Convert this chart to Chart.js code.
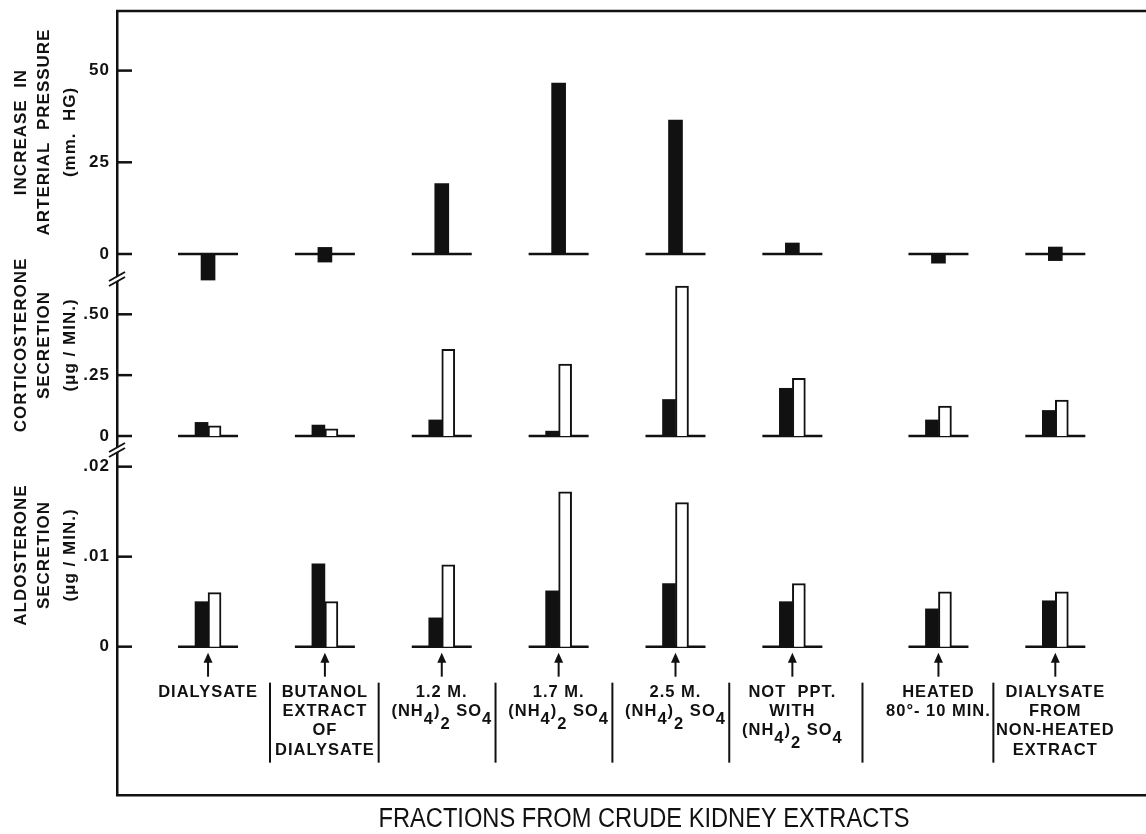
<!DOCTYPE html>
<html>
<head>
<meta charset="utf-8">
<script src="https://cdn.jsdelivr.net/npm/chart.js@4.4.1/dist/chart.umd.min.js"></script>
<style>
  html, body { margin: 0; padding: 0; background: #fff; }
  #wrap { width: 1146px; height: 834px; position: relative; }
</style>
</head>
<body>
<div id="wrap"><canvas id="myChart"></canvas></div>
<script>
// categories (lines of each label under the arrows)
const fractions = [
  ['DIALYSATE'],
  ['BUTANOL', 'EXTRACT', 'OF', 'DIALYSATE'],
  ['1.2 M.', '(NH4)2 SO4'],
  ['1.7 M.', '(NH4)2 SO4'],
  ['2.5 M.', '(NH4)2 SO4'],
  ['NOT  PPT.', 'WITH', '(NH4)2 SO4'],
  ['HEATED', '80°- 10 MIN.'],
  ['DIALYSATE', 'FROM', 'NON-HEATED', 'EXTRACT']
];

// increase in arterial pressure, mm Hg (two are small boxes around zero)
const pressureRise = [-7.1, [-2.2, 1.8], 19.2, 46.6, 36.5, 3.0, -2.5, [-1.8, 1.9]];
// corticosterone secretion, ug/min
const corticoBlack = [0.056, 0.045, 0.066, 0.020, 0.150, 0.196, 0.066, 0.105];
const corticoWhite = [0.042, 0.030, 0.356, 0.296, 0.616, 0.237, 0.123, 0.148];
// aldosterone secretion, ug/min
const aldoBlack = [0.0050, 0.0092, 0.0032, 0.0062, 0.0070, 0.0050, 0.0042, 0.0051];
const aldoWhite = [0.0060, 0.0050, 0.0091, 0.0172, 0.0160, 0.0070, 0.0061, 0.0061];

// tick values and labels
const pressureTicks = [0, 25, 50];
const pressureTickLabels = ['0', '25', '50'];
const corticoTicks = [0, 0.25, 0.5];
const corticoTickLabels = ['0', '.25', '.50'];
const aldoTicks = [0, 0.01, 0.02];
const aldoTickLabels = ['0', '.01', '.02'];

const ink = '#111';
const font = 'Liberation Sans, Arial, sans-serif';

// the last two fractions sit a bit further right
const slot = i => i + (i >= 6 ? 0.25 : 0);
const points = arr => arr.map((v, i) => ({ x: slot(i), y: v }));

function yAxis(min, max, weight, ticks, labels) {
  return {
    type: 'linear',
    position: 'left',
    stack: 'panels',
    stackWeight: weight,
    stacked: false,
    min: min,
    max: max,
    afterBuildTicks: s => { s.ticks = ticks.map(v => ({ value: v })); },
    afterFit: s => {
      s.width = 117;
      s.paddingTop = 0;
      s.paddingBottom = 0;
    },
    grid: { display: false, drawTicks: false },
    border: { display: true, color: ink, width: 2.5 },
    ticks: {
      padding: 7,
      color: ink,
      font: { family: font, size: 17, weight: 'bold' },
      callback: (v, i) => labels[i]
    }
  };
}

// text with chemical subscripts: digits after a letter or ')' are lowered
function drawRich(ctx, text, cx, y) {
  const parts = [];
  for (let i = 0; i < text.length; i++) {
    const ch = text[i];
    const sub = /[0-9]/.test(ch) && i > 0 && /[A-Z)]/.test(text[i - 1]);
    if (parts.length && parts[parts.length - 1].sub === sub) parts[parts.length - 1].t += ch;
    else parts.push({ t: ch, sub: sub });
  }
  let total = 0;
  parts.forEach(p => { p.w = ctx.measureText(p.t).width; total += p.w; });
  let x = cx - total / 2;
  ctx.textAlign = 'left';
  parts.forEach((p, k) => {
    let dy = 0;
    if (p.sub) dy = (k > 0 && parts[k - 1].t.endsWith(')')) ? 13 : 8;
    ctx.fillText(p.t, x, y + dy);
    x += p.w;
  });
}

const decor = {
  id: 'decor',
  beforeDraw(chart) {
    chart.ctx.letterSpacing = '1px';
  },
  beforeDatasetsDraw(chart) {
    const { ctx, chartArea, scales } = chart;
    const xs = scales.x;
    ctx.save();
    ctx.strokeStyle = ink;
    ctx.lineCap = 'butt';
    // top frame line
    ctx.lineWidth = 2.5;
    ctx.beginPath();
    ctx.moveTo(chartArea.left - 1, chartArea.top);
    ctx.lineTo(chartArea.right, chartArea.top);
    ctx.stroke();
    // inward ticks
    ['yP', 'yC', 'yA'].forEach(id => {
      const s = scales[id];
      s.ticks.forEach(t => {
        const y = s.getPixelForValue(t.value);
        ctx.beginPath();
        ctx.moveTo(chartArea.left, y);
        ctx.lineTo(chartArea.left + 15, y);
        ctx.stroke();
      });
      // short zero line under each fraction
      const y0 = s.getPixelForValue(0);
      fractions.forEach((f, i) => {
        const cx = xs.getPixelForValue(slot(i));
        ctx.beginPath();
        ctx.moveTo(cx - 30, y0);
        ctx.lineTo(cx + 30, y0);
        ctx.stroke();
      });
    });
    ctx.restore();
  },
  afterDraw(chart) {
    const { ctx, chartArea, scales } = chart;
    const xs = scales.x;
    const left = chartArea.left;
    ctx.save();
    ctx.strokeStyle = ink;
    ctx.fillStyle = ink;

    // axis breaks between the panels
    [scales.yP.bottom, scales.yC.bottom].forEach(y => {
      ctx.fillStyle = '#fff';
      ctx.beginPath();
      ctx.moveTo(left - 3, y + 2);
      ctx.lineTo(left + 3, y - 2);
      ctx.lineTo(left + 3, y - 6);
      ctx.lineTo(left - 3, y - 2);
      ctx.closePath();
      ctx.fill();
      ctx.lineWidth = 2;
      [0, -5].forEach(d => {
        ctx.beginPath();
        ctx.moveTo(left - 8, y + 5 + d);
        ctx.lineTo(left + 8, y - 4 + d);
        ctx.stroke();
      });
    });
    ctx.fillStyle = ink;

    const y0 = scales.yA.getPixelForValue(0);

    // arrows and labels
    ctx.font = 'bold 16.5px ' + font;
    ctx.letterSpacing = '1px';
    ctx.textBaseline = 'middle';
    fractions.forEach((lines, i) => {
      const cx = xs.getPixelForValue(slot(i));
      ctx.lineWidth = 2;
      ctx.beginPath();
      ctx.moveTo(cx, y0 + 14);
      ctx.lineTo(cx, y0 + 30);
      ctx.stroke();
      ctx.beginPath();
      ctx.moveTo(cx, y0 + 6);
      ctx.lineTo(cx - 4.5, y0 + 16);
      ctx.lineTo(cx + 4.5, y0 + 16);
      ctx.closePath();
      ctx.fill();
      lines.forEach((t, k) => {
        drawRich(ctx, t, cx, y0 + 45.5 + k * 19.3);
      });
    });

    // separators between fractions
    ctx.lineWidth = 2;
    [0.53, 1.46, 2.46, 3.46, 4.46, 5.6, 6.72].forEach(v => {
      const x = xs.getPixelForValue(v);
      ctx.beginPath();
      ctx.moveTo(x, y0 + 36);
      ctx.lineTo(x, y0 + 116);
      ctx.stroke();
    });

    // vertical panel titles
    const titles = [
      { lines: ['INCREASE  IN', 'ARTERIAL  PRESSURE', '(mm.  HG)'], y: 132 },
      { lines: ['CORTICOSTERONE', 'SECRETION', '(\u03BCg / MIN.)'], y: 345 },
      { lines: ['ALDOSTERONE', 'SECRETION', '(\u03BCg / MIN.)'], y: 555 }
    ];
    const tx = [left - 96, left - 73, left - 47];
    ctx.font = 'bold 17px ' + font;
    ctx.textAlign = 'center';
    titles.forEach(t => {
      t.lines.forEach((line, k) => {
        ctx.save();
        ctx.translate(tx[k], t.y);
        ctx.rotate(-Math.PI / 2);
        ctx.fillText(line, 0, 0);
        ctx.restore();
      });
    });

    // axis title, condensed a little like the lettering
    const title = 'FRACTIONS FROM CRUDE KIDNEY EXTRACTS';
    ctx.font = '27px ' + font;
    ctx.letterSpacing = '0px';
    const w = ctx.measureText(title).width;
    ctx.save();
    ctx.translate(left + 527, 820);
    ctx.scale(531 / w, 1);
    ctx.fillText(title, 0, 0);
    ctx.restore();

    ctx.restore();
  }
};

const myChart = new Chart(document.getElementById('myChart'), {
  type: 'bar',
  data: {
    datasets: [
      {
        label: 'Pressure',
        data: points(pressureRise),
        yAxisID: 'yP',
        backgroundColor: ink,
        borderWidth: 0,
        grouped: false,
        barThickness: 14
      },
      {
        label: 'Corticosterone (black)',
        data: points(corticoBlack),
        yAxisID: 'yC',
        stack: 'black',
        backgroundColor: ink,
        borderWidth: 0,
        barThickness: 13
      },
      {
        label: 'Corticosterone (white)',
        data: points(corticoWhite),
        yAxisID: 'yC',
        stack: 'white',
        backgroundColor: '#fff',
        borderColor: ink,
        borderWidth: 2,
        barThickness: 13
      },
      {
        label: 'Aldosterone (black)',
        data: points(aldoBlack),
        yAxisID: 'yA',
        stack: 'black',
        backgroundColor: ink,
        borderWidth: 0,
        barThickness: 13
      },
      {
        label: 'Aldosterone (white)',
        data: points(aldoWhite),
        yAxisID: 'yA',
        stack: 'white',
        backgroundColor: '#fff',
        borderColor: ink,
        borderWidth: 2,
        barThickness: 13
      }
    ]
  },
  options: {
    responsive: true,
    maintainAspectRatio: false,
    animation: false,
    layout: { padding: { top: 11, right: 0, bottom: 0, left: 0 } },
    plugins: { legend: { display: false }, tooltip: { enabled: false } },
    scales: {
      x: {
        type: 'linear',
        offset: false,
        min: -0.779,
        max: 8.026,
        afterFit: s => { s.height = 39; },
        ticks: { display: false },
        grid: { display: false, drawTicks: false },
        border: { display: true, color: ink, width: 2.5 }
      },
      yA: yAxis(-0.01648, 0.02163, 343, aldoTicks, aldoTickLabels),
      yC: yAxis(-0.0657, 0.6368, 171, corticoTicks, corticoTickLabels),
      yP: yAxis(-7.36, 66.25, 270, pressureTicks, pressureTickLabels)
    }
  },
  plugins: [decor]
});
</script>
</body>
</html>
